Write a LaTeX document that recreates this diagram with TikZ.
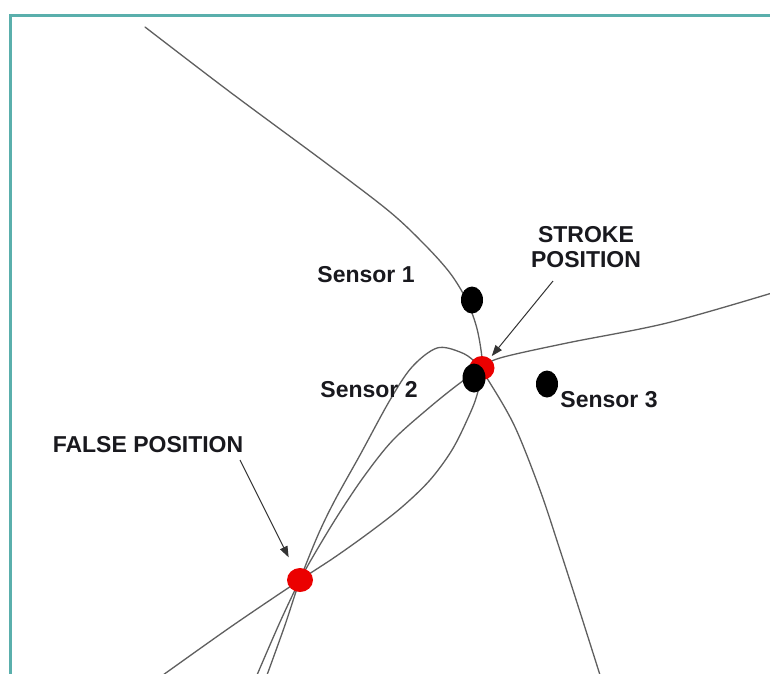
\documentclass[tikz,border=0pt]{standalone}
\usepackage{fontspec}
\setmainfont{Liberation Sans}
\usetikzlibrary{shapes.geometric,arrows.meta}
\definecolor{frameteal}{RGB}{90,175,172}
\definecolor{curvegray}{RGB}{95,95,95}
\definecolor{labelink}{RGB}{25,25,30}
\tikzset{
  curve/.style={draw=curvegray,line width=1.3pt,line cap=round},
  sensor/.style={ellipse,fill=black,inner sep=0pt,minimum width=22pt,minimum height=27pt},
  hit/.style={ellipse,fill=red!92!black,inner sep=0pt,minimum width=25pt,minimum height=24pt},
  lbl/.style={font=\fontsize{23}{25}\selectfont\bfseries,text=labelink,inner sep=0pt},
  pointer/.style={draw=black!80,line width=1pt,-{Triangle[length=11pt,width=8pt]}}
}
\begin{document}
\begin{tikzpicture}[x=1pt,y=-1pt]
\useasboundingbox (0,0) rectangle (770,673);
\fill[white] (0,0) rectangle (770,673);
% frame
\draw[frameteal,line width=3pt] (10,675) -- (10,15) -- (772,15);
% curves
\draw[curve] plot[smooth,tension=0.55] coordinates {(145,27) (230,92) (330,166) (390,212) (425,245) (450,273) (466,299) (476,325) (481,350) (482,368) (477,395) (468,418) (452,450) (430,480) (402,507) (370,532) (335,557) (300,580) (232,626) (163,675)};
\draw[curve] plot[smooth,tension=0.55] coordinates {(267,675) (285,625) (300,580) (318,535) (335,500) (360,455) (390,400) (412,367) (437,348) (460,352) (475,362) (490,383) (515,427) (540,490) (560,550) (580,612) (600,675)};
\draw[curve] plot[smooth,tension=0.55] coordinates {(772,293) (667,323) (567,343) (500,358) (482,368) (460,383) (430,407) (393,440) (365,475) (340,512) (318,548) (300,580) (280,622) (257,675)};
% points
\node[hit] (tp) at (482,368) {};
\node[sensor] (s1) at (472,300) {};
\node[sensor,minimum width=23pt,minimum height=29pt] (s2) at (474,378) {};
\node[sensor] (s3) at (547,384) {};
\node[hit,minimum width=26pt] (fp) at (300,580) {};
% labels
\node[lbl,anchor=base] (l1) at (366,282) {Sensor 1};
\node[lbl,anchor=base] (l2) at (369,397) {Sensor 2};
\node[lbl,anchor=base] (l3) at (609,407) {Sensor 3};
\node[lbl,anchor=base] (lf) at (148,452) {FALSE POSITION};
\node[lbl,anchor=base] (ls1) at (586,242) {STROKE};
\node[lbl,anchor=base] (ls2) at (586,267) {POSITION};
% pointers
\coordinate (sa) at (553,281);
\coordinate (fa) at (240,460);
\draw[pointer,shorten >=3pt] (sa) -- (tp);
\draw[pointer,shorten >=13pt] (fa) -- (fp);
\end{tikzpicture}
\end{document}
